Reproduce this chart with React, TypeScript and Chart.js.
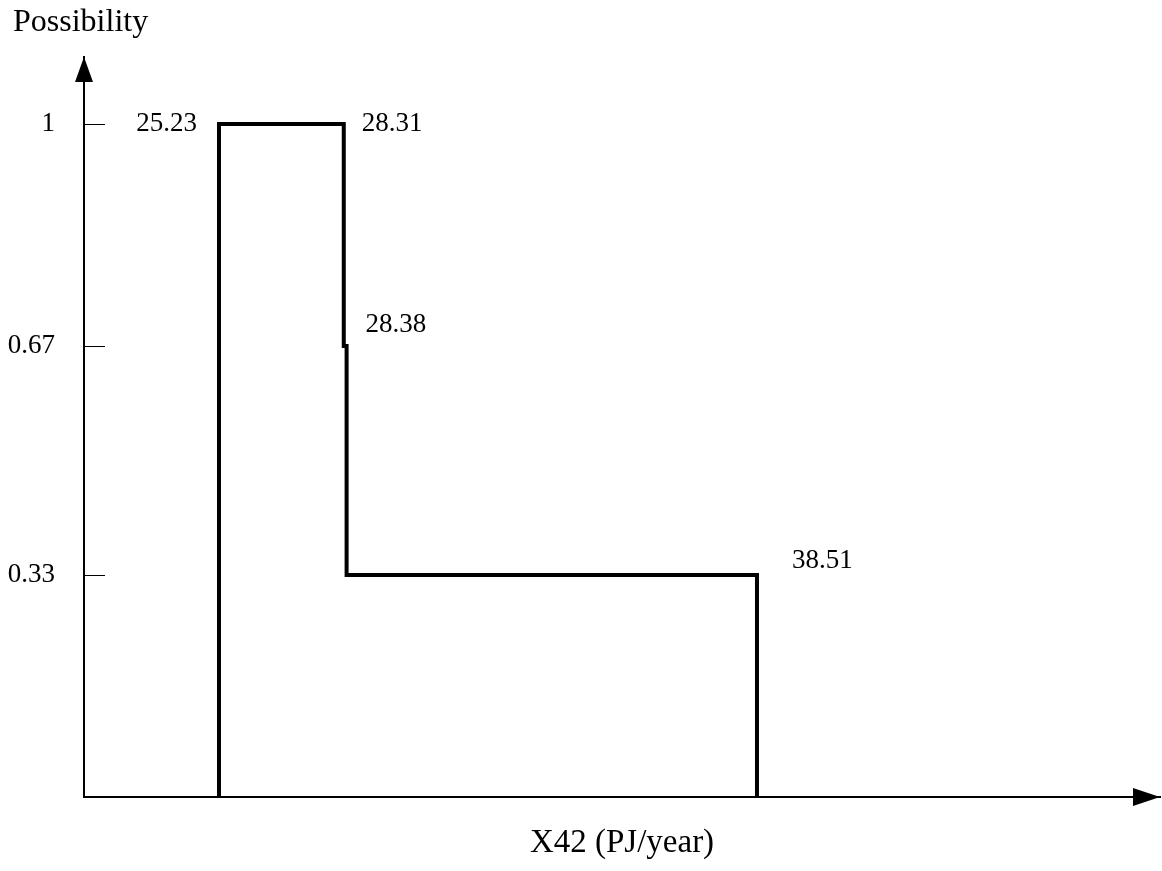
import React, { useEffect, useRef } from "react";
import { Chart, registerables } from "chart.js";

Chart.register(...registerables);

// ---- data ----
const breakX: number[] = [25.23, 28.31, 28.38, 38.51]; // X42 (PJ/year) break points
const levels: number[] = [1, 0.67, 0.33]; // possibility level between consecutive break points
const yTickValues: number[] = [0.33, 0.67, 1];
const yTickLabels: string[] = ["0.33", "0.67", "1"];
const xTitle = "X42 (PJ/year)";
const yTitle = "Possibility";
const pointLabels: string[] = breakX.map((v) => v.toFixed(2));

// styling of point labels: which level each label sits at, side and offsets
const labelLevelIndex = [0, 0, 1, 2];
const labelStyle = [
  { align: "right" as CanvasTextAlign, dx: -22, dy: 0 },
  { align: "left" as CanvasTextAlign, dx: 18, dy: 0 },
  { align: "left" as CanvasTextAlign, dx: 19, dy: -21 },
  { align: "left" as CanvasTextAlign, dx: 35, dy: -14 },
];

const FONT = "'Liberation Serif', 'Times New Roman', serif";

function buildSteps() {
  const pts: { x: number; y: number }[] = [];
  pts.push({ x: breakX[0], y: 0 });
  for (let i = 0; i < levels.length; i++) {
    pts.push({ x: breakX[i], y: levels[i] });
    pts.push({ x: breakX[i + 1], y: levels[i] });
  }
  pts.push({ x: breakX[breakX.length - 1], y: 0 });
  return pts;
}

const decorPlugin = {
  id: "decor",
  afterDraw(chart: any) {
    const { ctx, chartArea, scales } = chart;
    const xs = scales.x;
    const ys = scales.y;
    const left = chartArea.left;
    const bottom = chartArea.bottom;
    ctx.save();
    ctx.fillStyle = "#000";
    ctx.strokeStyle = "#000";

    // inside tick marks on y axis
    ctx.lineWidth = 1;
    yTickValues.forEach((v) => {
      const py = Math.round(ys.getPixelForValue(v)) + 0.5;
      ctx.beginPath();
      ctx.moveTo(left, py);
      ctx.lineTo(left + 21, py);
      ctx.stroke();
    });

    // y arrow head
    const top = chartArea.top;
    ctx.beginPath();
    ctx.moveTo(left, top);
    ctx.lineTo(left - 9, top + 25);
    ctx.lineTo(left + 9, top + 25);
    ctx.closePath();
    ctx.fill();

    // x arrow head
    const right = chartArea.right;
    ctx.beginPath();
    ctx.moveTo(right, bottom);
    ctx.lineTo(right - 27, bottom - 9);
    ctx.lineTo(right - 27, bottom + 9);
    ctx.closePath();
    ctx.fill();

    // y title (horizontal, top-left)
    ctx.font = `32px ${FONT}`;
    ctx.textAlign = "left";
    ctx.textBaseline = "alphabetic";
    ctx.fillText(yTitle, 13, 31);

    // point labels
    ctx.font = `27px ${FONT}`;
    ctx.textBaseline = "middle";
    pointLabels.forEach((txt, i) => {
      const st = labelStyle[i];
      const px = xs.getPixelForValue(breakX[i]);
      const py = ys.getPixelForValue(levels[labelLevelIndex[i]]);
      ctx.textAlign = st.align;
      ctx.fillText(txt, px + st.dx, py + st.dy);
    });
    ctx.restore();
  },
};

export default function App() {
  const ref = useRef<HTMLCanvasElement | null>(null);

  useEffect(() => {
    if (!ref.current) return;
    const chart = new Chart(ref.current, {
      type: "line",
      data: {
        datasets: [
          {
            data: buildSteps(),
            borderColor: "#000",
            borderWidth: 4,
            pointRadius: 0,
            fill: false,
            tension: 0,
            borderJoinStyle: "miter",
            borderCapStyle: "butt",
          },
        ],
      },
      options: {
        animation: false,
        responsive: false,
        layout: { padding: { top: 57, right: 2, left: 0, bottom: 0 } },
        plugins: {
          legend: { display: false },
          tooltip: { enabled: false },
          title: { display: false },
        },
        scales: {
          x: {
            type: "linear",
            min: 21.898,
            max: 48.458,
            grid: { display: false, drawTicks: false },
            border: { display: true, color: "#000", width: 2 },
            ticks: { display: false },
            title: {
              display: true,
              text: xTitle,
              color: "#000",
              font: { family: FONT, size: 33 },
              padding: { top: 0, bottom: 8 },
            },
            afterFit: (scale: any) => {
              scale.height = 74;
            },
          },
          y: {
            type: "linear",
            min: 0,
            max: 1.0996,
            grid: { display: false, drawTicks: false },
            border: { display: true, color: "#000", width: 2 },
            afterBuildTicks: (scale: any) => {
              scale.ticks = yTickValues.map((v) => ({ value: v }));
            },
            ticks: {
              color: "#000",
              padding: 29,
              font: { family: FONT, size: 27 },
              callback: (value: any) => {
                const i = yTickValues.indexOf(Number(value));
                return i >= 0 ? yTickLabels[i] : "";
              },
            },
            afterFit: (scale: any) => {
              scale.width = 84;
            },
          },
        },
      },
      plugins: [decorPlugin],
    } as any);
    return () => chart.destroy();
  }, []);

  return (
    <div style={{ position: "fixed", left: 0, top: 0, width: 1162, height: 871, background: "#fff" }}>
      <canvas ref={ref} width={1162} height={871} style={{ display: "block" }} />
    </div>
  );
}
